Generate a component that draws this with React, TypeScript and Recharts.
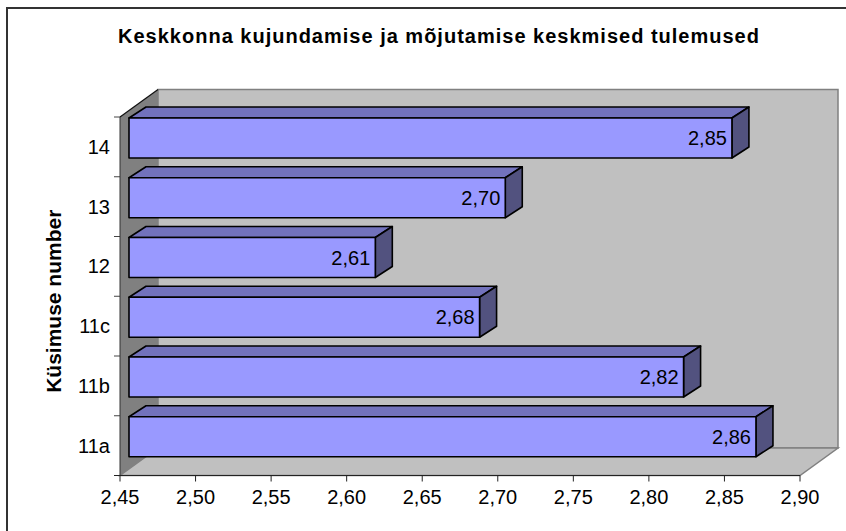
import React from "react";
import { BarChart, Bar, XAxis, YAxis, ReferenceArea, Label } from "recharts";

const questions = ["14", "13", "12", "11c", "11b", "11a"];
const scores = [2.849, 2.699, 2.613, 2.682, 2.817, 2.8649];
const xTicks = [2.45, 2.5, 2.55, 2.6, 2.65, 2.7, 2.75, 2.8, 2.85, 2.9];

const chartData = questions.map((q, i) => ({ q, score: scores[i] }));

const FONT = "'Liberation Sans', Arial, sans-serif";
const comma = (v: number) => v.toFixed(2).replace(".", ",");

// room depth of the fake 3D box
const WALL_DX = 38;
const WALL_DY = -27.5;

const pts = (list: number[][]) => list.map((p) => p.join(",")).join(" ");

const Room = ({ x, y, width, height }: any) => {
  const r = x + width;
  const b = y + height;
  const band = height / questions.length;
  return (
    <g>
      <polygon
        points={pts([[x + WALL_DX, y + WALL_DY], [r + WALL_DX, y + WALL_DY], [r + WALL_DX, b + WALL_DY], [x + WALL_DX, b + WALL_DY]])}
        fill="#c0c0c0"
        stroke="#808080"
        strokeWidth={1.5}
      />
      <polygon
        points={pts([[x, b], [r, b], [r + WALL_DX, b + WALL_DY], [x + WALL_DX, b + WALL_DY]])}
        fill="#c0c0c0"
        stroke="#808080"
        strokeWidth={1.5}
      />
      <polygon
        points={pts([[x, y], [x + WALL_DX, y + WALL_DY], [x + WALL_DX, b + WALL_DY], [x, b]])}
        fill="#808080"
      />
      <line x1={x} y1={y} x2={x + WALL_DX} y2={y + WALL_DY} stroke="#111" strokeWidth={1.2} />
      {questions.map((q, i) => (
        <line key={q} x1={x - 6} x2={x} y1={y + band * i} y2={y + band * i} stroke="#444" />
      ))}
      <line x1={x - 6} x2={x} y1={b} y2={b} stroke="#222" />
      <line x1={x} x2={x} y1={y} y2={b} stroke="#333" />
    </g>
  );
};

const Box = ({ x, y, width, height, payload }: any) => {
  const dx = 17;
  const dy = -11;
  const l = x + 9;
  const t = y - 9;
  const r = l + width;
  const b = t + height;
  const line = { stroke: "#000", strokeWidth: 1.6, strokeLinejoin: "round" as const };
  return (
    <g>
      <polygon points={pts([[l, t], [l + dx, t + dy], [r + dx, t + dy], [r, t]])} fill="#7272bc" {...line} />
      <polygon points={pts([[r, t], [r + dx, t + dy], [r + dx, b + dy], [r, b]])} fill="#52527f" {...line} />
      <rect x={l} y={t} width={r - l} height={b - t} fill="#9999ff" {...line} />
      <text x={r - 5} y={t + height / 2 + 7} textAnchor="end" fontFamily={FONT} fontSize={20} fill="#000">
        {comma(payload.score)}
      </text>
    </g>
  );
};

export default function App() {
  return (
    <div style={{ position: "absolute", left: 0, top: 0, width: 846, height: 531, background: "#fff", overflow: "hidden" }}>
      <div style={{ position: "absolute", left: 6, top: 7, width: 900, height: 600, borderLeft: "2px solid #333", borderTop: "2px solid #333" }} />
      <div
        style={{
          position: "absolute",
          left: 0,
          width: 878,
          top: 25,
          textAlign: "center",
          fontFamily: FONT,
          fontWeight: 700,
          fontSize: 20,
          letterSpacing: 1,
          color: "#000",
          whiteSpace: "nowrap",
        }}
      >
        Keskkonna kujundamise ja mõjutamise keskmised tulemused
      </div>
      <div style={{ position: "absolute", left: 0, top: 0 }}>
        <BarChart
          width={846}
          height={531}
          data={chartData}
          layout="vertical"
          margin={{ top: 117, right: 46, bottom: 25.5, left: 30 }}
          barSize={40}
        >
          <XAxis
            type="number"
            dataKey="score"
            domain={[2.45, 2.9]}
            ticks={xTicks}
            interval={0}
            tickFormatter={comma}
            tick={{ fill: "#000", fontSize: 20, fontFamily: FONT }}
            tickSize={6}
            tickMargin={8}
            stroke="#222"
            allowDataOverflow
          />
          <YAxis
            type="category"
            dataKey="q"
            width={90}
            tickLine={false}
            axisLine={false}
            tick={{ fill: "#000", fontSize: 20, fontFamily: FONT }}
            tickMargin={4}
          >
            <Label
              value="Küsimuse number"
              angle={-90}
              position="insideLeft"
              offset={0}
              dx={24}
              dy={5}
              style={{ textAnchor: "middle", fontFamily: FONT, fontWeight: 700, fontSize: 21, fill: "#000" }}
            />
          </YAxis>
          <ReferenceArea x1={2.45} x2={2.9} shape={<Room />} ifOverflow="visible" />
          <Bar dataKey="score" isAnimationActive={false} shape={<Box />} />
        </BarChart>
      </div>
    </div>
  );
}
